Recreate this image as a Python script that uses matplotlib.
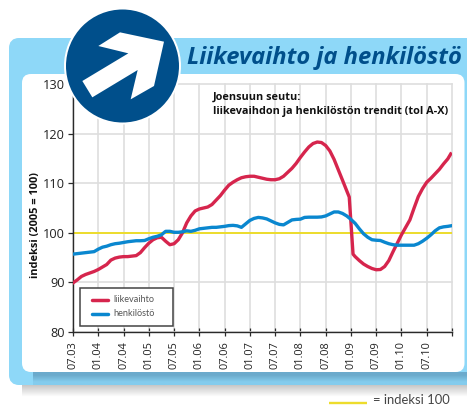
import matplotlib
matplotlib.use("Agg")
import matplotlib.pyplot as plt
import numpy as np
from matplotlib.patches import FancyBboxPatch, Circle, Polygon, Rectangle

W, H = 467, 412

tick_labels = ["07.03", "01.04", "07.04", "01.05", "07.05", "01.06", "07.06", "01.07",
               "07.07", "01.08", "07.08", "01.09", "07.09", "01.10", "07.10"]
y_ticks = [80, 90, 100, 110, 120, 130]

sales_months = list(range(0, 65)) + [65.6, 66.5, 67, 68, 69, 70, 71, 72, 73, 74, 75, 76, 77, 78,
                                     79, 80, 81, 82, 83, 84, 85, 86, 87, 88, 89, 89.7]
sales = [89.9, 90.5, 91.2, 91.6, 91.9, 92.2, 92.6, 93.1, 93.6, 94.5, 94.9, 95.1, 95.2, 95.2, 95.3,
         95.4, 96.0, 97.0, 97.9, 98.6, 99.0, 99.1, 98.3, 97.6, 97.8, 98.6, 100.0, 102.0, 103.4,
         104.4, 104.8, 105.0, 105.2, 105.7, 106.6, 107.5, 108.6, 109.6, 110.2, 110.7, 111.1, 111.3,
         111.4, 111.4, 111.2, 111.0, 110.8, 110.7, 110.7, 110.9, 111.4, 112.2, 113.0, 114.0, 115.2,
         116.3, 117.3, 118.0, 118.3, 118.2, 117.6, 116.5, 114.8, 112.7, 110.6,
         107.2, 95.7, 95.2, 94.4, 93.7, 93.2, 92.8, 92.55, 92.6, 93.2, 94.4, 96.2, 97.9, 99.6,
         101.1, 102.6, 105.0, 107.3, 108.9, 110.2, 111.0, 111.9, 112.8, 113.9, 114.9, 115.9]

staff_months = list(range(0, 90)) + [89.7]
staff = [95.7, 95.8, 95.9, 96.0, 96.1, 96.2, 96.7, 97.1, 97.3, 97.6, 97.8, 97.9, 98.05, 98.2, 98.3,
         98.4, 98.4, 98.45, 98.8, 99.1, 99.3, 99.6, 100.3, 100.3, 100.1, 100.1, 100.2, 100.4, 100.3,
         100.5, 100.8, 100.9, 101.0, 101.1, 101.1, 101.2, 101.3, 101.45, 101.5, 101.4, 101.1, 101.8,
         102.5, 102.9, 103.1, 103.0, 102.8, 102.4, 102.0, 101.7, 101.6, 102.1, 102.6, 102.7, 102.75,
         103.1, 103.15, 103.15, 103.15, 103.2, 103.4, 103.8, 104.2, 104.2, 103.9, 103.4, 102.7, 101.9,
         100.8, 99.8, 99.1, 98.6, 98.5, 98.45, 98.1, 97.8, 97.6, 97.5, 97.5, 97.5, 97.5, 97.5, 97.8,
         98.3, 98.9, 99.6, 100.4, 101.0, 101.2, 101.3, 101.4]

reference_level = [100, 100]
reference_span = [0, 90]

RED, BLUE, YEL = "#D6254D", "#0A87CF", "#EDDC2C"
NAVY = "#004F8B"
SKY = "#8ED8F8"
TXT = "#222222"
OS = ["Open Sans", "DejaVu Sans"]
LT = ["Lato", "DejaVu Sans"]

fig = plt.figure(figsize=(W / 100, H / 100), dpi=100, facecolor="white")

bg = fig.add_axes([0, 0, 1, 1], zorder=0)
bg.set_xlim(0, W); bg.set_ylim(H, 0); bg.axis("off")

# drop shadow below the panel
grad = np.linspace(0, 1, 32)[:, None]
bg.imshow(0.76 + 0.24 * grad, extent=(22, W, 397, 384), cmap="gray", vmin=0, vmax=1,
          aspect="auto", zorder=1)
bg.add_patch(FancyBboxPatch((13, 42), W + 20, 339, boxstyle="round,pad=0,rounding_size=6",
                            fc=SKY, ec=SKY, lw=8 * 0.72, zorder=2))
# darker inner band beneath the white card
band = np.array([[[0.42, 0.67, 0.80]], [[0.52, 0.80, 0.93]]])
bg.imshow(band, extent=(33, W, 385, 372), aspect="auto", interpolation="bilinear", zorder=3)
bg.set_xlim(0, W); bg.set_ylim(H, 0)
bg.add_patch(FancyBboxPatch((22, 74), 442.5, 298, boxstyle="round,pad=0,rounding_size=9",
                            fc="white", ec="none", zorder=4))

ax = fig.add_axes([73 / W, 1 - 332 / H, (452 - 73) / W, (332 - 84) / H], zorder=1)
ax.patch.set_alpha(0)
ax.set_xlim(0, 90); ax.set_ylim(80, 130)
ax.set_xticks(list(range(0, 91, 6)))
ax.set_xticklabels(tick_labels + [""], rotation=90, fontsize=7.9, family=OS, color=TXT)
ax.set_yticks(y_ticks)
ax.set_yticklabels([str(v) for v in y_ticks], fontsize=9.2, family=OS, color=TXT)
ax.grid(True, color="#DEDEDE", lw=1.2, zorder=0, clip_on=False)
ax.set_axisbelow(True)
ax.spines[["top", "right"]].set_visible(False)
for s in ("left", "bottom"):
    ax.spines[s].set_color("#2A2A2A"); ax.spines[s].set_linewidth(1.0)
ax.tick_params(axis="x", direction="inout", length=6, width=0.9, color="#2A2A2A", pad=3.5)
ax.tick_params(axis="y", direction="out", length=3.5, width=0.9, color="#2A2A2A", pad=2.5)
ax.plot(reference_span, reference_level, color=YEL, lw=1.4, zorder=2, solid_capstyle="butt")
ax.plot(sales_months, sales, color=RED, lw=2.4, zorder=3, solid_joinstyle="round")
ax.plot(staff_months, staff, color=BLUE, lw=2.4, zorder=4, solid_joinstyle="round")
ax.text(-9.0, 101.6, "indeksi (2005 = 100)", rotation=90, ha="center", va="center",
        fontsize=7.9, fontweight="bold", family=OS, color="#111111")
ax.text(33.2, 128.4, "Joensuun seutu:\nliikevaihdon ja henkilöstön trendit (tol A-X)",
        ha="left", va="top", fontsize=7.8, fontweight="bold", family=OS, color="#111111",
        linespacing=1.36)

ov = fig.add_axes([0, 0, 1, 1], zorder=2)
ov.set_xlim(0, W); ov.set_ylim(H, 0); ov.axis("off"); ov.patch.set_alpha(0)
ov.add_patch(Circle((122.5, 66), 58.5, fc="white", ec="none"))
ov.add_patch(Circle((122.5, 66), 56.5, fc=NAVY, ec="none"))
arrow = np.array([(360, 97), (492, 125), (462, 258), (392, 298), (413, 210), (277, 292),
                  (247, 243), (385, 160), (295, 138)]) / 3
ov.add_patch(Polygon(arrow, closed=True, fc="white", ec="none"))
ov.text(187, 63.5, "Liikevaihto ja henkilöstö", fontsize=17.1, fontweight="bold", style="italic",
        family=OS, color=NAVY, ha="left", va="baseline")

# legend box
ov.add_patch(Rectangle((80, 288), 93, 38, fc="white", ec="#444444", lw=1.1))
ov.plot([92, 108], [299.5, 299.5], color=RED, lw=2.5, solid_capstyle="round")
ov.plot([92, 108], [313.5, 313.5], color=BLUE, lw=2.5, solid_capstyle="round")
ov.text(113, 300, "liikevaihto", fontsize=6.6, family=LT, color="#555555", va="center")
ov.text(113, 314, "henkilöstö", fontsize=6.6, family=LT, color="#555555", va="center")

# bottom key
ov.plot([329, 367], [403, 403], color=YEL, lw=1.7, solid_capstyle="butt")
ov.text(373, 399.5, "= indeksi 100", fontsize=9.4, family=LT, color="#444444", va="center")

fig.savefig("out.png", dpi=100)
